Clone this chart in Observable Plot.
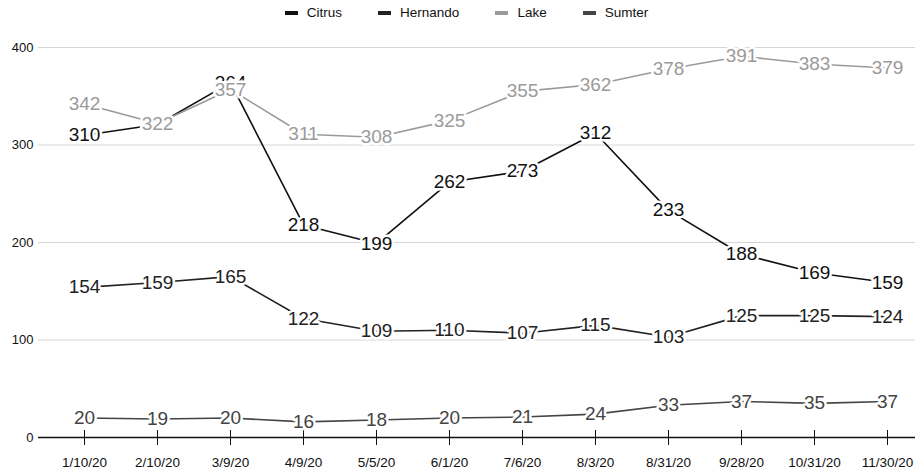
<!DOCTYPE html>
<html><head><meta charset="utf-8">
<script src="https://cdn.jsdelivr.net/npm/d3@7"></script>
<script src="https://cdn.jsdelivr.net/npm/@observablehq/plot@0.6"></script>
<style>
body{margin:0;background:#fff;font-family:"Liberation Sans",Arial,sans-serif;}
#legend{height:25px;display:flex;justify-content:center;align-items:center;gap:36px;font-size:13.5px;color:#111;padding-left:18px;box-sizing:border-box}
.item{display:flex;align-items:center;gap:9px}
.sw{width:13px;height:4px}
</style></head><body>
<div id="legend"></div><div id="chart"></div>
<script>
const dates = ["1/10/20","2/10/20","3/9/20","4/9/20","5/5/20","6/1/20","7/6/20","8/3/20","8/31/20","9/28/20","10/31/20","11/30/20"];
const series = ["Citrus","Hernando","Lake","Sumter"];
const citrus   = [310, 321, 364, 218, 199, 262, 273, 312, 233, 188, 169, 159];
const hernando = [154, 159, 165, 122, 109, 110, 107, 115, 103, 125, 125, 124];
const lake     = [342, 322, 357, 311, 308, 325, 355, 362, 378, 391, 383, 379];
const sumter   = [20, 19, 20, 16, 18, 20, 21, 24, 33, 37, 35, 37];
const colors = ["#111111","#222222","#9a9a9a","#444444"];
const yTicks = [0, 100, 200, 300, 400];

const values = [citrus, hernando, lake, sumter];
const rows = [];
series.forEach((s, i) => values[i].forEach((v, j) => rows.push({date: dates[j], series: s, value: v})));

const legend = document.getElementById("legend");
series.forEach((s, i) => {
  const it = document.createElement("div"); it.className = "item";
  const sw = document.createElement("span"); sw.className = "sw"; sw.style.background = colors[i];
  const t = document.createElement("span"); t.textContent = s;
  it.append(sw, t); legend.append(it);
});

const chart = Plot.plot({
  width: 915, height: 448,
  marginTop: 22, marginBottom: 36, marginLeft: 38, marginRight: 0,
  style: {fontFamily: "'Liberation Sans', Arial, sans-serif", fontSize: "13px", color: "#111", background: "#fff"},
  x: {type: "point", domain: dates, range: [82, 888], padding: 0, label: null},
  y: {domain: [0, 400], label: null},
  color: {domain: series, range: colors},
  marks: [
    Plot.gridY(yTicks.slice(1), {stroke: "#d6d6d6", strokeOpacity: 1}),
    Plot.ruleY([0], {stroke: "#111", strokeWidth: 1.5}),
    Plot.ruleX(dates, {x: d => d, y1: d => 0, y2: d => 0, insetTop: -7, insetBottom: -8, stroke: "#111"}),
    Plot.axisY(yTicks, {tickSize: 0, tickPadding: 5, fontSize: 13}),
    Plot.axisX({tickSize: 0, tickPadding: 20, fontSize: 13.5}),
    Plot.line(rows, {x: "date", y: "value", stroke: "series", z: "series", strokeWidth: 1.6}),
    Plot.text(rows, {x: "date", y: "value", text: d => String(d.value), fill: "series", stroke: "white", strokeWidth: 5, fontSize: 19})
  ]
});
document.getElementById("chart").append(chart);
</script>
</body></html>
